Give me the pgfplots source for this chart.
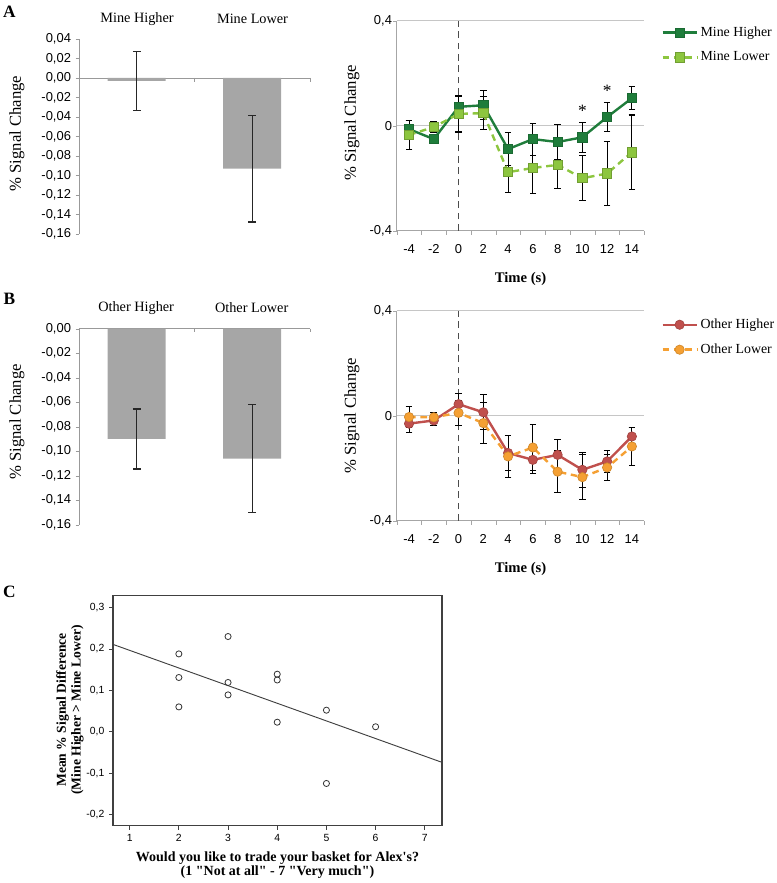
\documentclass[border=0pt]{standalone}
\usepackage{pgfplots}
\pgfplotsset{compat=1.18}
\usepackage{fontspec}
\setmainfont{Liberation Serif}
\newfontfamily\sansf{Liberation Sans}
\newfontfamily\rawserif{Liberation Serif}
\definecolor{barg}{HTML}{A6A6A6}
\definecolor{dkgreen}{HTML}{1F7D3B}
\definecolor{ltgreen}{HTML}{8DC63F}
\definecolor{ohred}{HTML}{C0504D}
\definecolor{olorange}{HTML}{F5A033}
\newcommand\tickf{\sansf\fontsize{9.7}{11}\selectfont}
\newcommand\ctickf{\sansf\fontsize{7.8}{9}\selectfont}
\newcommand\labf{\fontsize{10.7}{12}\selectfont}
\newcommand\legf{\fontsize{10.4}{12}\selectfont}
\pgfplotsset{
 barax/.style={anchor=south west, scale only axis, width=173.25pt, height=146.25pt,
   xmin=-0.5, xmax=1.5, axis x line=none, axis y line*=left, clip=false,
   y axis line style={gray!80}, ytick style={gray!80}, tick align=outside, major tick length=2.5pt,
   ticklabel style={font=\tickf}, /pgf/number format/assume math mode=true,
   yticklabel style={/pgf/number format/.cd, fixed, fixed zerofill, precision=2, use comma}},
 linax/.style={anchor=south west, scale only axis, width=185.7pt, height=157.5pt,
   xmin=-5, xmax=15, ymin=-0.4, ymax=0.4, axis lines*=left, clip=false,
   axis line style={gray!70}, xtick={-4,-2,...,14}, minor xtick={-5,-3,...,15},
   ytick={-0.4,0,0.4}, minor ytick={-0.4,0,0.4}, ymajorgrids, grid style={gray!45},
   tick align=outside, major tick length=0pt, minor tick length=3pt, tick style={gray!70},
   ticklabel style={font=\tickf}, /pgf/number format/assume math mode=true,
   yticklabel style={/pgf/number format/.cd, fixed, use comma},
   xticklabel style={yshift=-7pt},
   error bars/error bar style={solid, black, line width=0.8pt},
   error bars/error mark options={solid, rotate=90, black, mark size=2.5pt, line width=0.8pt},
   legend image code/.code={\draw[mark repeat=2,mark phase=2,##1] plot coordinates {(0cm,0cm) (0.45cm,0cm) (0.9cm,0cm)};},
   legend style={draw=none, fill=none, font=\legf, row sep=6pt, inner sep=0pt, cells={anchor=west}}},
}
\begin{document}
\begin{tikzpicture}
\useasboundingbox (0,0) rectangle (582.75pt,662.25pt);
% ---------- A bar
\begin{axis}[barax, at={(59.25pt,486.75pt)}, ymin=-0.16, ymax=0.04,
 ytick={-0.16,-0.14,-0.12,-0.1,-0.08,-0.06,-0.04,-0.02,0,0.02,0.04}]
\draw[gray!80] (axis cs:-0.5,0) -- (axis cs:1.5,0);
\draw[gray!80] (axis cs:0.5,0) -- ([yshift=-2.75pt]axis cs:0.5,0);
\draw[gray!80] (axis cs:1.5,0) -- ([yshift=-2.75pt]axis cs:1.5,0);
\addplot[ybar, bar width=43.5pt, fill=barg, draw=none,
 error bars/.cd, y dir=both, y explicit,
 error bar style={black!85, line width=0.9pt},
 error mark options={rotate=90, black!85, mark size=3pt, line width=0.9pt}]
 coordinates {(0,-0.003) +- (0,0.030) (1,-0.093) +- (0,0.0547)};
\end{axis}
% ---------- B bar
\begin{axis}[barax, at={(59.25pt,268.7pt)}, height=147pt, ymin=-0.16, ymax=0,
 ytick={-0.16,-0.14,-0.12,-0.1,-0.08,-0.06,-0.04,-0.02,0}]
\draw[gray!80] (axis cs:-0.5,0) -- (axis cs:1.5,0);
\draw[gray!80] (axis cs:0.5,0) -- ([yshift=-2.75pt]axis cs:0.5,0);
\draw[gray!80] (axis cs:1.5,0) -- ([yshift=-2.75pt]axis cs:1.5,0);
\addplot[ybar, bar width=43.5pt, fill=barg, draw=none,
 error bars/.cd, y dir=both, y explicit,
 error bar style={black!85, line width=0.9pt},
 error mark options={rotate=90, black!85, mark size=3pt, line width=0.9pt}]
 coordinates {(0,-0.090) +- (0,0.0245) (1,-0.106) +- (0,0.044)};
\end{axis}
% ---------- A line
\begin{axis}[linax, at={(297.5pt,489.2pt)},
 legend style={at={(axis description cs:1.068,0.985)}, anchor=north west}]
\draw[black!70, line width=1pt, dash pattern=on 5pt off 3.5pt] (axis cs:0,-0.4) -- (axis cs:0,0.4);
\addplot[dkgreen, line width=1.8pt, mark=square*, mark size=3.5pt,
 mark options={solid, fill=dkgreen, draw=dkgreen!85!black, line width=0.6pt},
 error bars/.cd, y dir=both, y explicit]
 coordinates {(-4,-0.013) +- (0,0.033) (-2,-0.051) +- (0,0.012) (0,0.072) +- (0,0.038)
 (2,0.078) +- (0,0.055) (4,-0.089) +- (0,0.064) (6,-0.051) +- (0,0.061) (8,-0.062) +- (0,0.066)
 (10,-0.044) +- (0,0.057) (12,0.033) +- (0,0.056) (14,0.105) +- (0,0.044)};
\addlegendentry{Mine Higher}
\addplot[ltgreen, line width=1.8pt, dash pattern=on 5pt off 3.5pt, mark=square*, mark size=3.5pt,
 mark options={solid, fill=ltgreen, draw=ltgreen!80!black, line width=0.6pt},
 error bars/.cd, y dir=both, y explicit]
 coordinates {(-4,-0.035) +- (0,0.054) (-2,-0.005) +- (0,0.021) (0,0.045) +- (0,0.069)
 (2,0.048) +- (0,0.064) (4,-0.177) +- (0,0.076) (6,-0.161) +- (0,0.098) (8,-0.149) +- (0,0.091)
 (10,-0.200) +- (0,0.085) (12,-0.182) +- (0,0.121) (14,-0.101) +- (0,0.142)};
\addlegendentry{Mine Lower}
\node[font=\fontsize{13}{13}\selectfont] at (axis cs:10,0.055) {*};
\node[font=\fontsize{13}{13}\selectfont] at (axis cs:12,0.133) {*};
\end{axis}
% ---------- B line
\begin{axis}[linax, at={(297.5pt,271.7pt)},
 legend style={at={(axis description cs:1.068,0.975)}, anchor=north west}]
\draw[black!70, line width=1pt, dash pattern=on 5pt off 3.5pt] (axis cs:0,-0.4) -- (axis cs:0,0.4);
\addplot[ohred, line width=1.8pt, mark=*, mark size=3.5pt,
 mark options={solid, fill=ohred, draw=ohred!85!black, line width=0.5pt},
 error bars/.cd, y dir=both, y explicit]
 coordinates {(-4,-0.030) +- (0,0.033) (-2,-0.018) +- (0,0.020) (0,0.044) +- (0,0.042)
 (2,0.013) +- (0,0.067) (4,-0.142) +- (0,0.066) (6,-0.168) +- (0,0.053) (8,-0.149) +- (0,0.057)
 (10,-0.206) +- (0,0.066) (12,-0.174) +- (0,0.041) (14,-0.079) +- (0,0.033)};
\addlegendentry{Other Higher}
\addplot[olorange, line width=1.8pt, dash pattern=on 5pt off 3.5pt, mark=*, mark size=3.5pt,
 mark options={solid, fill=olorange, draw=olorange!85!black, line width=0.5pt},
 error bars/.cd, y dir=both, y explicit]
 coordinates {(-4,-0.005) +- (0,0.039) (-2,-0.006) +- (0,0.020) (0,0.011) +- (0,0.048)
 (2,-0.028) +- (0,0.079) (4,-0.155) +- (0,0.079) (6,-0.121) +- (0,0.086) (8,-0.213) +- (0,0.081)
 (10,-0.234) +- (0,0.086) (12,-0.197) +- (0,0.050) (14,-0.117) +- (0,0.072)};
\addlegendentry{Other Lower}
\end{axis}
% ---------- C scatter
\begin{axis}[anchor=south west, at={(84.75pt,42.98pt)}, scale only axis, width=246.75pt, height=172.3pt,
 xmin=0.661, xmax=7.35, ymin=-0.227, ymax=0.328, xtick={1,2,3,4,5,6,7},
 ytick={-0.2,-0.1,0,0.1,0.2,0.3}, tick pos=left, tick align=outside, major tick length=3pt,
 axis line style={black!75, line width=0.8pt}, tick style={black!75, line width=0.6pt},
 ticklabel style={font=\ctickf}, /pgf/number format/assume math mode=true,
 yticklabel style={/pgf/number format/.cd, fixed, fixed zerofill, precision=1, use comma}]
\addplot[black!75, line width=0.7pt] coordinates {(0.661,0.211) (7.35,-0.074)};
\addplot[only marks, mark=o, mark size=2.3pt, black!80, mark options={line width=0.6pt}]
 coordinates {(2,0.188) (2,0.131) (2,0.060) (3,0.230) (3,0.119) (3,0.089)
 (4,0.139) (4,0.125) (4,0.023) (5,0.052) (5,-0.125) (6,0.012)};
\end{axis}
% ---------- texts
\node[font=\bfseries\fontsize{13}{13}\selectfont] at (7pt,653.25pt) {A};
\node[font=\bfseries\fontsize{13}{13}\selectfont] at (7pt,438pt) {B};
\node[font=\bfseries\fontsize{13}{13}\selectfont] at (7pt,218.25pt) {C};
\node[font=\labf] at (102.75pt,648pt) {Mine Higher};
\node[font=\labf] at (189.4pt,648pt) {Mine Lower};
\node[font=\labf] at (102.1pt,431.25pt) {Other Higher};
\node[font=\labf] at (188.75pt,431.25pt) {Other Lower};
\node[font=\fontsize{12.5}{14}\selectfont, rotate=90] at (12.75pt,562.1pt) {\% Signal Change};
\node[font=\fontsize{12.5}{14}\selectfont, rotate=90] at (12.75pt,345.75pt) {\% Signal Change};
\node[font=\fontsize{12.5}{14}\selectfont, rotate=90] at (264pt,570pt) {\% Signal Change};
\node[font=\fontsize{12.5}{14}\selectfont, rotate=90] at (264pt,350.5pt) {\% Signal Change};
\node[font=\bfseries\fontsize{11}{12}\selectfont] at (390.4pt,453pt) {Time (s)};
\node[font=\bfseries\fontsize{11}{12}\selectfont] at (390.4pt,235.5pt) {Time (s)};
\node[font=\bfseries\fontsize{10.2}{11}\selectfont, rotate=90, align=center] at (52.5pt,129.75pt)
 {Mean \% Signal Difference\\(Mine Higher > Mine Lower)};
\node[font=\rawserif\bfseries\fontsize{10.5}{10.7}\selectfont, align=center] at (208.1pt,13.6pt)
 {Would you like to trade your basket for Alex's?\\(1 "Not at all" - 7 "Very much")};
\end{tikzpicture}
\end{document}
